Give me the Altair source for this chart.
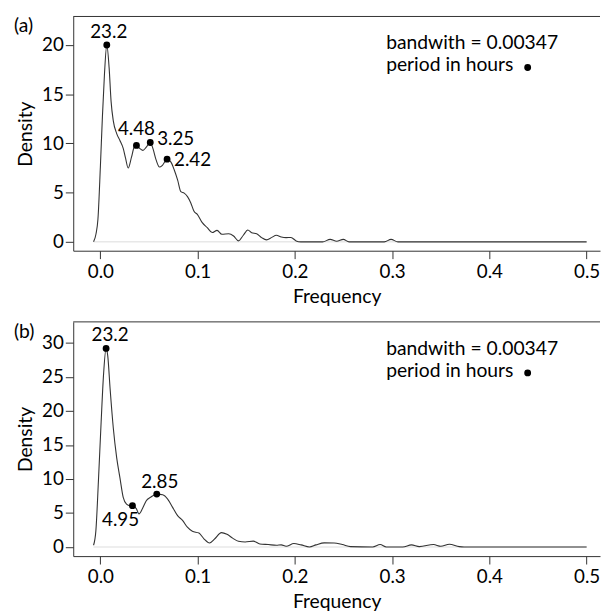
import altair as alt
import pandas as pd

FONT = "Lato"

# ---------------- data ----------------
freq_a = [-0.007, -0.0045, -0.0025, 0.0, 0.0021, 0.0042, 0.0066, 0.009, 0.011, 0.0133,
          0.0168, 0.0201, 0.0235, 0.0259, 0.0286, 0.032, 0.0347, 0.0371, 0.0404, 0.0438,
          0.047, 0.0513, 0.054, 0.0574, 0.0608, 0.064, 0.0686, 0.0726, 0.076, 0.0794,
          0.0828, 0.0862, 0.0896, 0.093, 0.0963, 0.0997, 0.1048, 0.1099, 0.115, 0.12,
          0.125, 0.132, 0.137, 0.142, 0.147, 0.1516, 0.1556, 0.1607, 0.1658, 0.1709,
          0.176, 0.181, 0.186, 0.191, 0.196, 0.2013, 0.206, 0.2285, 0.2363, 0.243,
          0.2498, 0.2557, 0.292, 0.2989, 0.306, 0.5]
dens_a = [0.0, 0.8, 2.3, 7.6, 12.7, 17.0, 20.0, 17.7, 14.3, 12.3,
          11.0, 10.3, 9.5, 8.5, 7.5, 8.6, 9.6, 9.8, 9.5, 9.3,
          9.6, 10.1, 9.5, 8.3, 7.6, 7.8, 8.4, 8.1, 7.3, 6.3,
          5.1, 4.95, 4.6, 3.95, 3.1, 2.8, 1.95, 1.45, 0.95, 1.17,
          0.77, 0.83, 0.6, 0.1, 0.67, 1.2, 0.93, 0.83, 0.43, 0.2,
          0.43, 0.67, 0.5, 0.43, 0.45, 0.1, 0.0, 0.0, 0.25, 0.06,
          0.25, 0.0, 0.0, 0.25, 0.0, 0.0]

freq_b = [-0.007, -0.0046, -0.002, 0.0008, 0.0032, 0.0059, 0.0076, 0.01, 0.0133, 0.0168,
          0.0201, 0.0235, 0.0269, 0.0303, 0.033, 0.0371, 0.0397, 0.0438, 0.0472, 0.0516,
          0.058, 0.0641, 0.0692, 0.0743, 0.0794, 0.0845, 0.0895, 0.0946, 0.1014, 0.1065,
          0.1123, 0.1177, 0.1245, 0.1302, 0.136, 0.142, 0.1489, 0.1573, 0.164, 0.1726,
          0.181, 0.186, 0.191, 0.199, 0.2064, 0.215, 0.2217, 0.2302, 0.2403, 0.2488,
          0.2572, 0.28, 0.2877, 0.294, 0.311, 0.3199, 0.328, 0.3426, 0.35, 0.3589,
          0.369, 0.374, 0.5]
dens_b = [0.25, 2.4, 9.7, 18.4, 25.2, 29.2, 28.1, 23.3, 17.5, 13.1,
          10.2, 7.3, 6.3, 6.07, 6.07, 5.6, 4.86, 5.8, 6.8, 7.3,
          7.77, 7.67, 7.04, 5.82, 4.6, 3.9, 2.9, 2.3, 2.04, 1.2,
          0.58, 1.2, 2.1, 1.85, 1.3, 0.83, 0.73, 0.85, 0.44, 0.35,
          0.25, 0.3, 0.1, 0.5, 0.3, 0.0, 0.3, 0.6, 0.58, 0.35,
          0.05, 0.0, 0.35, 0.0, 0.0, 0.3, 0.05, 0.35, 0.1, 0.4,
          0.05, 0.0, 0.0]

peak_period_a = ["23.2", "4.48", "3.25", "2.42"]
peak_freq_a = [0.0066, 0.0371, 0.0513, 0.0686]
peak_dens_a = [20.0, 9.8, 10.1, 8.4]

peak_period_b = ["23.2", "4.95", "2.85"]
peak_freq_b = [0.0059, 0.033, 0.058]
peak_dens_b = [29.2, 6.07, 7.77]

x_ticks = [0.0, 0.1, 0.2, 0.3, 0.4, 0.5]
y_ticks_a = [0, 5, 10, 15, 20]
y_ticks_b = [0, 5, 10, 15, 20, 25, 30]

legend_lines = ["bandwith = 0.00347", "period in hours"]

# ---------------- layout ----------------
W = 533
H = 237
X_DOM = [-0.0279, -0.0279 + W / 984.0]


def panel(letter, freq, dens, pfreq, pdens, pper, ydom, yticks, label_specs):
    curve = pd.DataFrame({"f": freq, "d": dens})
    peaks = pd.DataFrame({"f": pfreq, "d": pdens, "p": pper})
    zero = pd.DataFrame({"f": [freq[0], freq[-1]], "d": [0.0, 0.0]})

    x = alt.X("f:Q",
              scale=alt.Scale(domain=X_DOM, nice=False, zero=False),
              axis=alt.Axis(values=x_ticks, format=".1f", title="Frequency",
                            tickSize=8, labelPadding=4, titlePadding=6,
                            labelFlush=False))
    y = alt.Y("d:Q",
              scale=alt.Scale(domain=ydom, nice=False, zero=False),
              axis=alt.Axis(values=yticks, format="d", title="Density",
                            tickSize=8, labelPadding=2, titlePadding=6,
                            labelFlush=False))

    layers = [
        alt.Chart(zero).mark_line(color="#e8e8e8", strokeWidth=1.5).encode(x=x, y=y),
        alt.Chart(curve).mark_line(color="#333333", strokeWidth=1.1,
                                   interpolate="monotone").encode(x=x, y=y),
        alt.Chart(peaks).mark_circle(size=48, color="black", opacity=1).encode(x=x, y=y),
    ]
    for idx, align, dx, dy in label_specs:
        layers.append(
            alt.Chart(peaks.iloc[idx]).mark_text(
                font=FONT, fontSize=19, color="black", align=align,
                baseline="middle", dx=dx, dy=dy
            ).encode(x=x, y=y, text="p:N")
        )
    # frame top
    layers.append(
        alt.Chart(pd.DataFrame({"k": [0]})).mark_rule(color="#333333", strokeWidth=1)
        .encode(x=alt.value(0), x2=alt.value(W), y=alt.value(0))
    )
    # panel letter
    layers.append(
        alt.Chart(pd.DataFrame({"t": [letter]})).mark_text(
            font=FONT, fontSize=19.5, color="black", align="left", baseline="middle"
        ).encode(x=alt.value(-60), y=alt.value(10), text="t:N")
    )
    # legend text + dot
    layers.append(
        alt.Chart(pd.DataFrame({"t": [legend_lines[0]]})).mark_text(
            font=FONT, fontSize=19.5, color="black", align="left", baseline="alphabetic"
        ).encode(x=alt.value(316.6), y=alt.value(33.3), text="t:N")
    )
    layers.append(
        alt.Chart(pd.DataFrame({"t": [legend_lines[1]]})).mark_text(
            font=FONT, fontSize=19.5, color="black", align="left", baseline="alphabetic"
        ).encode(x=alt.value(316.6), y=alt.value(55.5), text="t:N")
    )
    layers.append(
        alt.Chart(pd.DataFrame({"k": [0]})).mark_circle(size=48, color="black", opacity=1)
        .encode(x=alt.value(459.8), y=alt.value(51.6))
    )
    return alt.layer(*layers).properties(width=W, height=H)


pa = panel("(a)", freq_a, dens_a, peak_freq_a, peak_dens_a, peak_period_a,
           [-0.9, 22.9], y_ticks_a,
           [([0], "center", 2, -13), ([1], "center", 0, -17),
            ([2], "left", 7, -3), ([3], "left", 7, 1)])
pb = panel("(b)", freq_b, dens_b, peak_freq_b, peak_dens_b, peak_period_b,
           [-1.35, 33.1], y_ticks_b,
           [([0], "center", 4, -13), ([2], "center", 3, -12),
            ([1], "center", -12, 15)])

chart = alt.vconcat(pa, pb, spacing=15).properties(
    padding={"left": 6, "top": 4, "right": 0, "bottom": 0}
).configure_view(stroke=None).configure_axis(
    grid=False, domainColor="#333333", tickColor="#333333", domainWidth=1,
    labelFont=FONT, labelFontSize=19, labelColor="black",
    titleFont=FONT, titleFontSize=19.5, titleFontWeight="normal", titleColor="black"
)

chart.save("out.html", embed_options={"renderer": "svg", "actions": False})
